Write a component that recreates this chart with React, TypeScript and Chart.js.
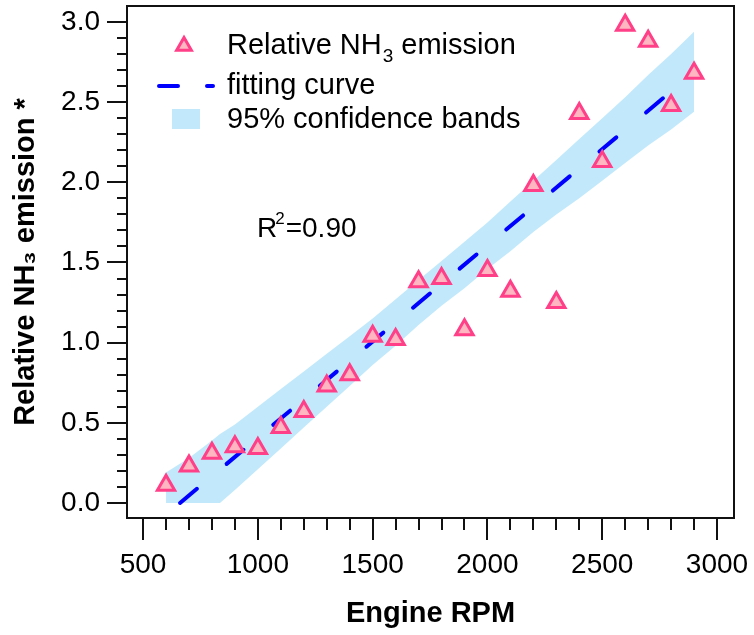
import React, { useEffect, useRef } from "react";
import { Chart, registerables } from "chart.js";

Chart.register(...registerables);

// ---------------- data ----------------
const rpm = [600, 700, 800, 900, 1000, 1100, 1200, 1300, 1400, 1500, 1600, 1700, 1800, 1900, 2000, 2100, 2200, 2300, 2400, 2500, 2600, 2700, 2800, 2900];
const relEmission = [0.11, 0.23, 0.31, 0.35, 0.34, 0.47, 0.57, 0.73, 0.8, 1.04, 1.02, 1.38, 1.4, 1.08, 1.45, 1.32, 1.98, 1.25, 2.43, 2.13, 2.98, 2.88, 2.48, 2.68];

const fitRpm = [661, 2900];
const fitValue = [0, 2.687];

const bandRpm = [600, 700, 800, 835, 900, 1000, 1100, 1200, 1300, 1400, 1500, 1600, 1700, 1800, 1900, 2000, 2100, 2200, 2300, 2400, 2500, 2600, 2700, 2800, 2900];
const bandUpper = [0.19, 0.28, 0.39, 0.43, 0.49, 0.6, 0.71, 0.82, 0.93, 1.04, 1.15, 1.27, 1.39, 1.51, 1.63, 1.75, 1.88, 2.01, 2.14, 2.27, 2.4, 2.53, 2.67, 2.8, 2.94];
const bandLower = [0, 0, 0, 0, 0.08, 0.21, 0.34, 0.47, 0.6, 0.73, 0.86, 0.98, 1.11, 1.23, 1.34, 1.46, 1.57, 1.69, 1.8, 1.9, 2.01, 2.12, 2.23, 2.33, 2.44];

const xMajorTicks = [500, 1000, 1500, 2000, 2500, 3000];
const yMajorTicks = [0, 0.5, 1.0, 1.5, 2.0, 2.5, 3.0];
const xMinorTicks = [600, 700, 800, 900, 1100, 1200, 1300, 1400, 1600, 1700, 1800, 1900, 2100, 2200, 2300, 2400, 2600, 2700, 2800, 2900];
const yMinorTicks = [0.1, 0.2, 0.3, 0.4, 0.6, 0.7, 0.8, 0.9, 1.1, 1.2, 1.3, 1.4, 1.6, 1.7, 1.8, 1.9, 2.1, 2.2, 2.3, 2.4, 2.6, 2.7, 2.8, 2.9];

const seriesLabel = "Relative NH₃ emission";
const fitLabel = "fitting curve";
const bandLabel = "95% confidence bands";
const rSquaredText = "0.90";

// ---------------- styles ----------------
const FONT = "'Liberation Sans', Arial, Helvetica, sans-serif";
const POINT_BORDER = "#FF3F87";
const POINT_FILL = "#FFB6C1";
const FIT_COLOR = "#0000FF";
const BAND_COLOR = "#C2E9FB";
const INK = "#000000";

function triPath(ctx: CanvasRenderingContext2D, x: number, y: number, r: number) {
  ctx.beginPath();
  let rad = 0;
  ctx.moveTo(x + Math.sin(rad) * r, y - Math.cos(rad) * r);
  rad += (2 * Math.PI) / 3;
  ctx.lineTo(x + Math.sin(rad) * r, y - Math.cos(rad) * r);
  rad += (2 * Math.PI) / 3;
  ctx.lineTo(x + Math.sin(rad) * r, y - Math.cos(rad) * r);
  ctx.closePath();
}

const decorPlugin = {
  id: "decor",
  afterDatasetsDraw(chart: any) {
    const { ctx, chartArea: ca } = chart;
    ctx.save();
    const lx = ca.left;
    const ly = ca.top;
    ctx.textAlign = "left";
    ctx.textBaseline = "alphabetic";
    ctx.fillStyle = INK;

    // legend row 1: triangle marker
    triPath(ctx, lx + 57, ly + 40, 8.5);
    ctx.fillStyle = POINT_FILL;
    ctx.fill();
    ctx.lineWidth = 3;
    ctx.strokeStyle = POINT_BORDER;
    ctx.stroke();

    ctx.fillStyle = INK;
    const parts = seriesLabel.split("₃");
    let x = lx + 100;
    ctx.font = `29px ${FONT}`;
    ctx.fillText(parts[0], x, ly + 48);
    x += ctx.measureText(parts[0]).width + 1;
    ctx.font = `19px ${FONT}`;
    ctx.fillText("3", x, ly + 56);
    x += ctx.measureText("3").width;
    ctx.font = `29px ${FONT}`;
    ctx.fillText(parts[1], x, ly + 48);

    // legend row 2: dashed line
    ctx.save();
    ctx.strokeStyle = FIT_COLOR;
    ctx.lineWidth = 4;
    ctx.lineCap = "round";
    ctx.setLineDash([19, 29]);
    ctx.beginPath();
    ctx.moveTo(lx + 32, ly + 80);
    ctx.lineTo(lx + 86, ly + 80);
    ctx.stroke();
    ctx.restore();
    ctx.fillStyle = INK;
    ctx.font = `29px ${FONT}`;
    ctx.fillText(fitLabel, lx + 100, ly + 88);

    // legend row 3: band box
    ctx.fillStyle = BAND_COLOR;
    ctx.fillRect(lx + 45, ly + 103, 28, 20);
    ctx.fillStyle = INK;
    ctx.fillText(bandLabel, lx + 100, ly + 122);

    // R^2 annotation
    let rx = lx + 130;
    const ry = ly + 231;
    ctx.font = `28px ${FONT}`;
    ctx.fillText("R", rx, ry);
    rx += ctx.measureText("R").width - 2;
    ctx.font = `17px ${FONT}`;
    ctx.fillText("2", rx, ry - 13);
    rx += ctx.measureText("2").width + 1;
    ctx.font = `28px ${FONT}`;
    ctx.fillText("=" + rSquaredText, rx, ry);
    ctx.restore();
  },
  afterDraw(chart: any) {
    const { ctx, chartArea: ca, scales } = chart;
    const xs = scales.x;
    const ys = scales.y;
    ctx.save();
    ctx.strokeStyle = "#111";
    ctx.lineWidth = 2;
    ctx.strokeRect(ca.left, ca.top, ca.right - ca.left, ca.bottom - ca.top);
    ctx.beginPath();
    for (const v of xMajorTicks) {
      const p = Math.round(xs.getPixelForValue(v));
      ctx.moveTo(p, ca.bottom);
      ctx.lineTo(p, ca.bottom + 22);
    }
    for (const v of xMinorTicks) {
      const p = Math.round(xs.getPixelForValue(v));
      ctx.moveTo(p, ca.bottom);
      ctx.lineTo(p, ca.bottom + 12);
    }
    for (const v of yMajorTicks) {
      const p = Math.round(ys.getPixelForValue(v));
      ctx.moveTo(ca.left, p);
      ctx.lineTo(ca.left - 20, p);
    }
    for (const v of yMinorTicks) {
      const p = Math.round(ys.getPixelForValue(v));
      ctx.moveTo(ca.left, p);
      ctx.lineTo(ca.left - 10, p);
    }
    ctx.stroke();
    ctx.restore();
  },
};

export default function App() {
  const ref = useRef<HTMLCanvasElement | null>(null);

  useEffect(() => {
    if (!ref.current) return;
    Chart.defaults.font.family = FONT;
    const chart = new Chart(ref.current, {
      type: "scatter",
      data: {
        datasets: [
          {
            type: "scatter",
            label: seriesLabel,
            data: rpm.map((x, i) => ({ x, y: relEmission[i] })),
            pointStyle: "triangle",
            pointRadius: 10,
            pointHoverRadius: 10,
            borderWidth: 3,
            borderColor: POINT_BORDER,
            backgroundColor: POINT_FILL,
            order: 0,
          },
          {
            type: "line",
            label: fitLabel,
            data: fitRpm.map((x, i) => ({ x, y: fitValue[i] })),
            borderColor: FIT_COLOR,
            borderWidth: 4,
            borderDash: [22, 38.8],
            borderCapStyle: "round",
            pointRadius: 0,
            pointHitRadius: 0,
            fill: false,
            tension: 0,
            order: 1,
          },
          {
            type: "line",
            label: bandLabel,
            data: bandRpm.map((x, i) => ({ x, y: bandUpper[i] })),
            borderWidth: 0,
            borderColor: "rgba(0,0,0,0)",
            backgroundColor: BAND_COLOR,
            pointRadius: 0,
            pointHitRadius: 0,
            fill: "+1",
            tension: 0,
            order: 2,
          },
          {
            type: "line",
            label: "lower band",
            data: bandRpm.map((x, i) => ({ x, y: bandLower[i] })),
            borderWidth: 0,
            borderColor: "rgba(0,0,0,0)",
            backgroundColor: BAND_COLOR,
            pointRadius: 0,
            pointHitRadius: 0,
            fill: false,
            tension: 0,
            order: 3,
          },
        ],
      },
      options: {
        responsive: false,
        animation: false,
        events: [],
        layout: { padding: { top: 0, right: 20, left: 0, bottom: 0 } },
        plugins: {
          legend: { display: false },
          tooltip: { enabled: false },
        },
        scales: {
          x: {
            type: "linear",
            min: 430,
            max: 3074,
            afterBuildTicks: (s: any) => {
              s.ticks = xMajorTicks.map((v) => ({ value: v }));
            },
            afterFit: (s: any) => {
              s.height = 117;
              s.paddingLeft = 0;
              s.paddingRight = 0;
            },
            grid: { display: false, drawTicks: true, tickLength: 22 },
            border: { display: false },
            ticks: {
              color: INK,
              font: { size: 28, family: FONT },
              padding: 8,
              maxRotation: 0,
              autoSkip: false,
              callback: (v: any) => String(v),
            },
            title: {
              display: true,
              text: "Engine RPM",
              color: INK,
              font: { size: 29, weight: "bold", family: FONT },
              padding: { top: 0, bottom: 4 },
            },
          },
          y: {
            type: "linear",
            min: -0.094,
            max: 3.1,
            afterBuildTicks: (s: any) => {
              s.ticks = yMajorTicks.map((v) => ({ value: v }));
            },
            afterFit: (s: any) => {
              s.width = 127;
              s.paddingTop = 0;
              s.paddingBottom = 0;
            },
            grid: { display: false, drawTicks: true, tickLength: 20 },
            border: { display: false },
            ticks: {
              color: INK,
              font: { size: 28, family: FONT },
              padding: 7,
              autoSkip: false,
              callback: (v: any) => Number(v).toFixed(1),
            },
            title: {
              display: true,
              text: "Relative NH₃ emission *",
              color: INK,
              font: { size: 29, weight: "bold", family: FONT },
              padding: { top: 9, bottom: 0 },
            },
          },
        },
      },
      plugins: [decorPlugin],
    } as any);
    return () => chart.destroy();
  }, []);

  return (
    <canvas
      ref={ref}
      width={754}
      height={642}
      style={{ position: "absolute", left: 0, top: -7, display: "block" }}
    />
  );
}
